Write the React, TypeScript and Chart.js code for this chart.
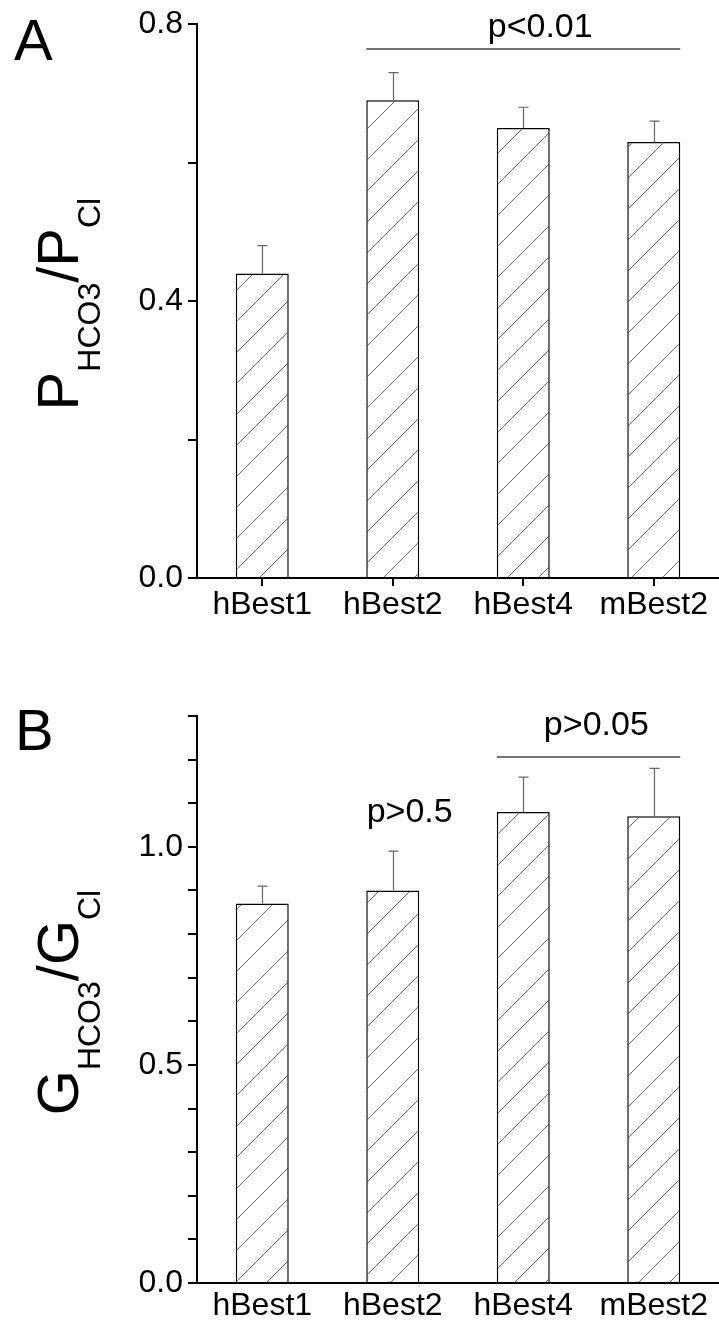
import React, { useEffect, useRef } from 'react';
import { Chart, registerables } from 'chart.js';

Chart.register(...registerables);

const categories = ['hBest1', 'hBest2', 'hBest4', 'mBest2'];

// Panel A: P_HCO3 / P_Cl
const permValues = [0.44, 0.69, 0.65, 0.63];
const permErrors = [0.04, 0.04, 0.03, 0.03];
const permLabelledTicks = [0, 0.4, 0.8];

// Panel B: G_HCO3 / G_Cl
const condValues = [0.87, 0.9, 1.08, 1.07];
const condErrors = [0.04, 0.09, 0.08, 0.11];
const condLabelledTicks = [0, 0.5, 1.0];

const FONT = '"Liberation Sans", Arial, Helvetica, sans-serif';

type Annotation = {
  text: string;
  textAt: number;
  textY: number;
  lineFrom?: number;
  lineTo?: number;
  lineY?: number;
};

const permAnnotations: Annotation[] = [
  { text: 'p<0.01', textAt: 2.13, textY: 0.781, lineFrom: 1, lineTo: 3, lineY: 0.764 },
];
const condAnnotations: Annotation[] = [
  { text: 'p>0.5', textAt: 1.13, textY: 1.057 },
  { text: 'p>0.05', textAt: 2.56, textY: 1.257, lineFrom: 2, lineTo: 3, lineY: 1.206 },
];

function makeHatch(): CanvasPattern | string {
  const size = 31;
  const c = document.createElement('canvas');
  c.width = size;
  c.height = size;
  const g = c.getContext('2d');
  if (!g) return '#fff';
  g.fillStyle = '#fff';
  g.fillRect(0, 0, size, size);
  g.strokeStyle = '#666';
  g.lineWidth = 1;
  g.beginPath();
  g.moveTo(-2, size + 2);
  g.lineTo(size + 2, -2);
  g.moveTo(-2, 2);
  g.lineTo(2, -2);
  g.moveTo(size - 2, size + 2);
  g.lineTo(size + 2, size - 2);
  g.stroke();
  const p = g.createPattern(c, 'repeat');
  return p || '#fff';
}

type TitlePart = { text: string; sub?: boolean };

function makeFigurePlugin(cfg: {
  letter: string;
  letterX: number;
  letterY: number;
  title: TitlePart[];
  values: number[];
  errors: number[];
  annotations: Annotation[];
}) {
  return {
    id: 'figure' + cfg.letter,
    afterDatasetsDraw(chart: any) {
      const ctx: CanvasRenderingContext2D = chart.ctx;
      const xs = chart.scales.x;
      const ys = chart.scales.y;
      const meta = chart.getDatasetMeta(0);
      ctx.save();
      // error bars (upper only)
      ctx.strokeStyle = '#666';
      ctx.lineWidth = 1.2;
      cfg.values.forEach((v, i) => {
        const bar = meta.data[i];
        if (!bar) return;
        const yTop = ys.getPixelForValue(v);
        const yCap = ys.getPixelForValue(v + cfg.errors[i]);
        const bx = Math.round(bar.x) + 0.5;
        ctx.beginPath();
        ctx.moveTo(bx, yTop);
        ctx.lineTo(bx, yCap);
        ctx.moveTo(bx - 5, yCap);
        ctx.lineTo(bx + 5, yCap);
        ctx.stroke();
      });
      // significance annotations
      cfg.annotations.forEach((a) => {
        if (a.lineFrom !== undefined && a.lineTo !== undefined && a.lineY !== undefined) {
          const b1 = meta.data[a.lineFrom];
          const b2 = meta.data[a.lineTo];
          const x1 = b1.x - b1.width / 2;
          const x2 = b2.x + b2.width / 2;
          const ly = ys.getPixelForValue(a.lineY);
          ctx.strokeStyle = '#444';
          ctx.lineWidth = 1.5;
          ctx.beginPath();
          ctx.moveTo(x1, ly);
          ctx.lineTo(x2, ly);
          ctx.stroke();
        }
        ctx.fillStyle = '#000';
        ctx.font = `34px ${FONT}`;
        ctx.textAlign = 'center';
        ctx.textBaseline = 'alphabetic';
        ctx.fillText(a.text, xs.getPixelForValue(a.textAt), ys.getPixelForValue(a.textY));
      });
      ctx.restore();
    },
    afterDraw(chart: any) {
      const ctx: CanvasRenderingContext2D = chart.ctx;
      const area = chart.chartArea;
      ctx.save();
      ctx.fillStyle = '#000';
      ctx.textAlign = 'left';
      ctx.textBaseline = 'alphabetic';
      ctx.font = `58px ${FONT}`;
      ctx.fillText(cfg.letter, cfg.letterX, cfg.letterY);
      // rotated axis title with subscripts
      const mainFont = `58px ${FONT}`;
      const subFont = `32px ${FONT}`;
      const widths = cfg.title.map((p) => {
        ctx.font = p.sub ? subFont : mainFont;
        return ctx.measureText(p.text).width;
      });
      const total = widths.reduce((s, w) => s + w, 0);
      ctx.translate(78, (area.top + area.bottom) / 2 + 3);
      ctx.rotate(-Math.PI / 2);
      let pos = -total / 2;
      cfg.title.forEach((p, i) => {
        ctx.font = p.sub ? subFont : mainFont;
        ctx.fillText(p.text, pos, p.sub ? 22 : 0);
        pos += widths[i];
      });
      ctx.restore();
    },
  };
}

function buildConfig(opts: {
  values: number[];
  yMax: number;
  step: number;
  labelled: number[];
  topPad: number;
  xHeight: number;
  xTicks: boolean;
  xPad: number;
  plugin: any;
}) {
  return {
    type: 'bar' as const,
    data: {
      labels: categories,
      datasets: [
        {
          data: opts.values,
          backgroundColor: makeHatch(),
          borderColor: '#000',
          borderWidth: 1.5,
          categoryPercentage: 1,
          barPercentage: 0.406,
        },
      ],
    },
    options: {
      animation: false,
      responsive: true,
      maintainAspectRatio: false,
      layout: { padding: { top: opts.topPad, right: 0, left: 0, bottom: 0 } },
      plugins: { legend: { display: false }, tooltip: { enabled: false }, title: { display: false } },
      scales: {
        x: {
          type: 'category',
          offset: true,
          grid: {
            display: true,
            drawOnChartArea: false,
            drawTicks: opts.xTicks,
            tickLength: opts.xTicks ? 8 : 0,
            offset: false,
            color: '#000',
            lineWidth: 2,
          },
          border: { display: true, color: '#000', width: 2 },
          ticks: {
            color: '#000',
            font: { family: FONT, size: 32 },
            padding: opts.xPad,
            maxRotation: 0,
            minRotation: 0,
            autoSkip: false,
          },
          afterFit: (s: any) => {
            s.height = opts.xHeight;
          },
        },
        y: {
          min: 0,
          max: opts.yMax,
          ticks: {
            stepSize: opts.step,
            color: '#000',
            font: { family: FONT, size: 32 },
            padding: 5,
            autoSkip: false,
            callback: (v: any) => {
              const r = Math.round(Number(v) * 100) / 100;
              return opts.labelled.some((t) => Math.abs(t - r) < 1e-6) ? r.toFixed(1) : '';
            },
          },
          grid: {
            display: true,
            drawOnChartArea: false,
            drawTicks: true,
            tickLength: 9,
            color: '#000',
            lineWidth: 2,
          },
          border: { display: true, color: '#000', width: 2 },
          afterFit: (s: any) => {
            s.width = 197;
          },
        },
      },
    },
    plugins: [opts.plugin],
  };
}

export default function App() {
  const refA = useRef<HTMLCanvasElement | null>(null);
  const refB = useRef<HTMLCanvasElement | null>(null);

  useEffect(() => {
    if (!refA.current || !refB.current) return;
    const chartA = new Chart(
      refA.current,
      buildConfig({
        values: permValues,
        yMax: 0.8,
        step: 0.2,
        labelled: permLabelledTicks,
        topPad: 24,
        xHeight: 72,
        xTicks: true,
        xPad: 0,
        plugin: makeFigurePlugin({
          letter: 'A',
          letterX: 14,
          letterY: 60,
          title: [{ text: 'P' }, { text: 'HCO3', sub: true }, { text: '/' }, { text: 'P' }, { text: 'Cl', sub: true }],
          values: permValues,
          errors: permErrors,
          annotations: permAnnotations,
        }),
      }) as any
    );
    const chartB = new Chart(
      refB.current,
      buildConfig({
        values: condValues,
        yMax: 1.3,
        step: 0.1,
        labelled: condLabelledTicks,
        topPad: 66,
        xHeight: 40,
        xTicks: false,
        xPad: 4,
        plugin: makeFigurePlugin({
          letter: 'B',
          letterX: 15,
          letterY: 100,
          title: [{ text: 'G' }, { text: 'HCO3', sub: true }, { text: '/' }, { text: 'G' }, { text: 'Cl', sub: true }],
          values: condValues,
          errors: condErrors,
          annotations: condAnnotations,
        }),
      }) as any
    );
    return () => {
      chartA.destroy();
      chartB.destroy();
    };
  }, []);

  return (
    <div style={{ position: 'absolute', left: 0, top: 0, width: 719, height: 1323, background: '#fff' }}>
      <div style={{ position: 'absolute', left: 0, top: 0, width: 719, height: 650 }}>
        <canvas ref={refA} />
      </div>
      <div style={{ position: 'absolute', left: 0, top: 650, width: 719, height: 673 }}>
        <canvas ref={refB} />
      </div>
    </div>
  );
}
